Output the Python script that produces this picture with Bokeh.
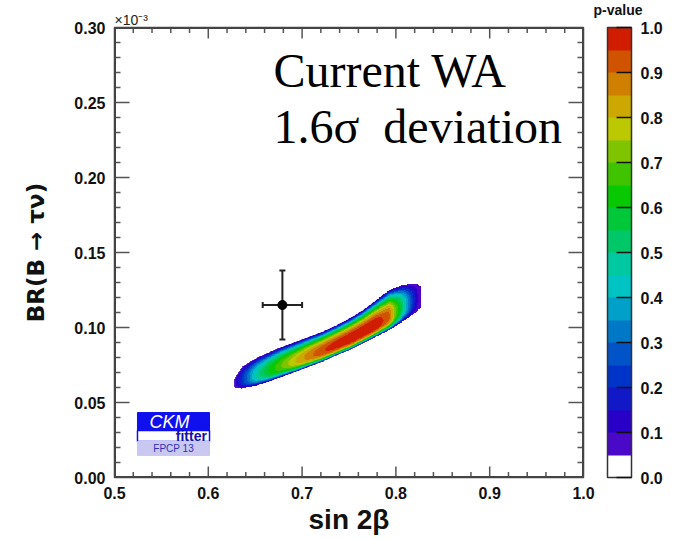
import numpy as np
from bokeh.plotting import figure
from bokeh.models import (LinearColorMapper, ColorBar, FixedTicker, PrintfTickFormatter,
                          Label, Range1d, Whisker, ColumnDataSource, TeeHead, Title)
from bokeh.embed import file_html
from bokeh.resources import INLINE

# ---------------- data ----------------
x_range = [0.5, 1.0]
y_range = [0.0, 0.30]
x_major = [0.5, 0.6, 0.7, 0.8, 0.9, 1.0]
y_major = [0.00, 0.05, 0.10, 0.15, 0.20, 0.25, 0.30]
pval_ticks = [0.0, 0.1, 0.2, 0.3, 0.4, 0.5, 0.6, 0.7, 0.8, 0.9, 1.0]

# current world average measurement (BR in units of 1e-3)
wa_sin2b = [0.679]
wa_sin2b_err = [0.021]
wa_br = [0.115]
wa_br_err = [0.023]

# fit p-value region, read slice by slice along sin2beta
knot_x = [0.627, 0.636, 0.650, 0.664, 0.678, 0.693, 0.707, 0.721, 0.735, 0.750, 0.764,
          0.778, 0.792, 0.800, 0.806, 0.813, 0.821, 0.826]
knot_upper = [0.0650, 0.0738, 0.0793, 0.0833, 0.0871, 0.0904, 0.0938, 0.0971, 0.1011, 0.1060,
              0.1115, 0.1182, 0.1249, 0.1268, 0.1282, 0.1288, 0.1293, 0.1271]
knot_lower = [0.0600, 0.0593, 0.0611, 0.0638, 0.0671, 0.0704, 0.0738, 0.0771, 0.0811, 0.0849,
              0.0893, 0.0938, 0.0982, 0.1013, 0.1038, 0.1068, 0.1104, 0.1138]
knot_ridge = [0.45, 0.42, 0.39, 0.39, 0.39, 0.38, 0.37, 0.36, 0.35, 0.35, 0.34,
              0.33, 0.34, 0.38, 0.42, 0.45, 0.48, 0.50]
knot_peak = [0.06, 0.22, 0.45, 0.60, 0.70, 0.80, 0.88, 0.94, 0.98, 1.00, 1.00,
             1.00, 0.91, 0.68, 0.52, 0.32, 0.12, 0.05]

palette = ["#ffffff", "#4a08c8", "#2800c8", "#1018c8", "#0034c8", "#0054c8", "#0078c8",
           "#00a0c8", "#00c4c4", "#00c8a0", "#00c868", "#00c838", "#08c800", "#40c400",
           "#80c400", "#bcc800", "#cca800", "#d08000", "#d05400", "#d01c00"]

# ---------------- p-value field ----------------
gx0, gy0, gdx, gdy = 0.62, 0.055, 0.0005, 0.00025
nx, ny = 420, 320
gx = gx0 + gdx * (np.arange(nx) + 0.5)
gy = gy0 + gdy * (np.arange(ny) + 0.5)
U = np.interp(gx, knot_x, knot_upper)
L = np.interp(gx, knot_x, knot_lower)
R = np.interp(gx, knot_x, knot_ridge)
P = np.interp(gx, knot_x, knot_peak)
inside_x = (gx >= knot_x[0]) & (gx <= knot_x[-1])
ridge = (L + R * (U - L))[None, :]
Y = gy[:, None]
up = np.maximum(U[None, :] - ridge, 1e-9)
lo = np.maximum(ridge - L[None, :], 1e-9)
above = Y >= ridge
d = np.where(above, (Y - ridge) / up, (ridge - Y) / lo)
shape = np.where(above, np.clip(d, 0, 1) ** 2.3, np.clip(d, 0, 1) ** 3.2)
field = 0.05 + (P[None, :] - 0.05) * (1 - shape)
field = np.where((d <= 1) & inside_x[None, :], field, np.nan)

# ---------------- figure ----------------
FONT = "Liberation Sans"
FW, FH = 469, 450
p = figure(x_range=Range1d(*x_range), y_range=Range1d(*y_range),
           width=677, height=539,
           min_border_left=114, min_border_right=94, min_border_top=27, min_border_bottom=62,
           output_backend="svg", toolbar_location=None,
           x_axis_label="sin 2β", y_axis_label="BR(B → τν)")
p.grid.visible = False
p.outline_line_color = "#444444"
p.outline_line_width = 1.5
p.background_fill_color = "white"
p.border_fill_color = "white"

p.xaxis.ticker = FixedTicker(ticks=x_major)
p.yaxis.ticker = FixedTicker(ticks=y_major)
p.xaxis.formatter = PrintfTickFormatter(format="%.1f")
p.yaxis.formatter = PrintfTickFormatter(format="%.2f")
for ax in p.xaxis + p.yaxis:
    ax.major_tick_line_color = None
    ax.minor_tick_line_color = None
    ax.axis_line_color = None
    ax.major_tick_out = 0
    ax.major_tick_in = 0
    ax.major_label_text_font = FONT
    ax.major_label_text_font_style = "bold"
    ax.major_label_text_font_size = "16px"
    ax.major_label_text_color = "#111111"
    ax.axis_label_text_font_style = "bold"
    ax.axis_label_text_color = "#111111"
p.xaxis.axis_label_text_font = FONT
p.xaxis.axis_label_text_font_size = "28px"
p.yaxis.axis_label_text_font = "DejaVu Sans"
p.yaxis.axis_label_text_font_size = "23px"
p.yaxis.major_label_standoff = 9
p.yaxis.axis_label_standoff = 22
p.xaxis.major_label_standoff = 9
p.xaxis.axis_label_standoff = 2

# frame ticks on all four sides (pointing inwards)
xpp = (x_range[1] - x_range[0]) / FW
ypp = (y_range[1] - y_range[0]) / FH
x_minor = [v for v in np.round(np.arange(x_range[0], x_range[1] + 1e-9, 0.02), 3)
           if min(abs(v - m) for m in x_major) > 1e-6]
y_minor = [v for v in np.round(np.arange(y_range[0], y_range[1] + 1e-9, 0.01), 3)
           if min(abs(v - m) for m in y_major) > 1e-6]
tick_col, tick_w = "#555555", 1.5
for ticks, ln in ((x_major, 11), (x_minor, 5.5)):
    n = len(ticks)
    p.segment(x0=ticks, x1=ticks, y0=[y_range[0]] * n, y1=[y_range[0] + ln * ypp] * n,
              line_color=tick_col, line_width=tick_w)
    p.segment(x0=ticks, x1=ticks, y0=[y_range[1]] * n, y1=[y_range[1] - ln * ypp] * n,
              line_color=tick_col, line_width=tick_w)
for ticks, ln in ((y_major, 15), (y_minor, 6)):
    n = len(ticks)
    p.segment(y0=ticks, y1=ticks, x0=[x_range[0]] * n, x1=[x_range[0] + ln * xpp] * n,
              line_color=tick_col, line_width=tick_w)
    p.segment(y0=ticks, y1=ticks, x0=[x_range[1]] * n, x1=[x_range[1] - ln * xpp] * n,
              line_color=tick_col, line_width=tick_w)
# frame border
p.segment(x0=[x_range[0], x_range[1], x_range[0], x_range[0]],
          x1=[x_range[0], x_range[1], x_range[1], x_range[1]],
          y0=[y_range[0], y_range[0], y_range[0], y_range[1]],
          y1=[y_range[1], y_range[1], y_range[0], y_range[1]],
          line_color="#444444", line_width=3)

mapper = LinearColorMapper(palette=palette, low=0.0, high=1.0, nan_color=(0, 0, 0, 0))
p.image(image=[field], x=gx0, y=gy0, dw=gdx * nx, dh=gdy * ny, color_mapper=mapper)

# measurement with error bars
src = ColumnDataSource(dict(x=wa_sin2b, y=wa_br,
                            xl=[a - b for a, b in zip(wa_sin2b, wa_sin2b_err)],
                            xu=[a + b for a, b in zip(wa_sin2b, wa_sin2b_err)],
                            yl=[a - b for a, b in zip(wa_br, wa_br_err)],
                            yu=[a + b for a, b in zip(wa_br, wa_br_err)]))
for w in (Whisker(base="x", lower="yl", upper="yu", dimension="height", source=src),
          Whisker(base="y", lower="xl", upper="xu", dimension="width", source=src)):
    w.line_color = "#222222"
    w.line_width = 2
    w.upper_head = TeeHead(size=6, line_color="#222222", line_width=2)
    w.lower_head = TeeHead(size=6, line_color="#222222", line_width=2)
    p.add_layout(w)
p.scatter("x", "y", source=src, size=9, color="black")

# colour bar
cb = ColorBar(color_mapper=mapper, ticker=FixedTicker(ticks=pval_ticks),
              formatter=PrintfTickFormatter(format="%.1f"),
              width=24, height=FH, padding=0, margin=0, location=(24, 0),
              major_label_text_font=FONT, major_label_text_font_style="bold",
              major_label_text_font_size="16px", major_label_text_color="#111111",
              major_tick_in=15, major_tick_out=0, major_tick_line_color="#111111",
              major_tick_line_width=1.5,
              minor_tick_line_color=None, bar_line_color="#333333", bar_line_width=1.5,
              label_standoff=9, border_line_color=None, background_fill_alpha=0)
p.add_layout(cb, "right")

# exponent of the y axis and colour-bar title (above the frame)
p.add_layout(Title(text="×10⁻³", align="left", text_font=FONT, text_font_style="normal",
                   text_font_size="14px", text_color="#222222", standoff=0, offset=0), "above")
p.add_layout(Title(text="p-value", align="right", text_font=FONT, text_font_style="bold",
                   text_font_size="14px", text_color="#111111", standoff=-16, offset=-59),
             "above")

# texts
p.add_layout(Label(x=0.6695, y=0.2713, text="Current WA", text_font="Liberation Serif",
                   text_font_size="48px", text_color="black", text_baseline="middle"))
p.add_layout(Label(x=0.6695, y=0.2340, text="1.6σ \u00a0deviation", text_font="Liberation Serif",
                   text_font_size="48px", text_color="black", text_baseline="middle"))

# CKMfitter logo
p.quad(left=[0.5245], right=[0.6013], top=[0.0433], bottom=[0.0313], fill_color="#1010ee",
       line_color="#1010ee")
p.quad(left=[0.5245], right=[0.6013], top=[0.0313], bottom=[0.0240], fill_color="white",
       line_color="#1010ee", line_width=1.5)
p.quad(left=[0.5245], right=[0.6013], top=[0.0240], bottom=[0.0147], fill_color="#c8c8f0",
       line_color="#c8c8f0")
p.add_layout(Label(x=0.5586, y=0.0373, text="CKM", text_font=FONT,
                   text_font_style="italic", text_font_size="18px", text_color="white",
                   text_align="center", text_baseline="middle"))
p.add_layout(Label(x=0.5985, y=0.0276, text="fitter", text_font=FONT,
                   text_font_style="bold", text_font_size="14px", text_color="#1010aa",
                   text_align="right", text_baseline="middle"))
p.add_layout(Label(x=0.563, y=0.0193, text="FPCP 13", text_font=FONT,
                   text_font_size="10px", text_color="#3030c0",
                   text_align="center", text_baseline="middle"))

open("out.html", "w").write(file_html(p, INLINE))
